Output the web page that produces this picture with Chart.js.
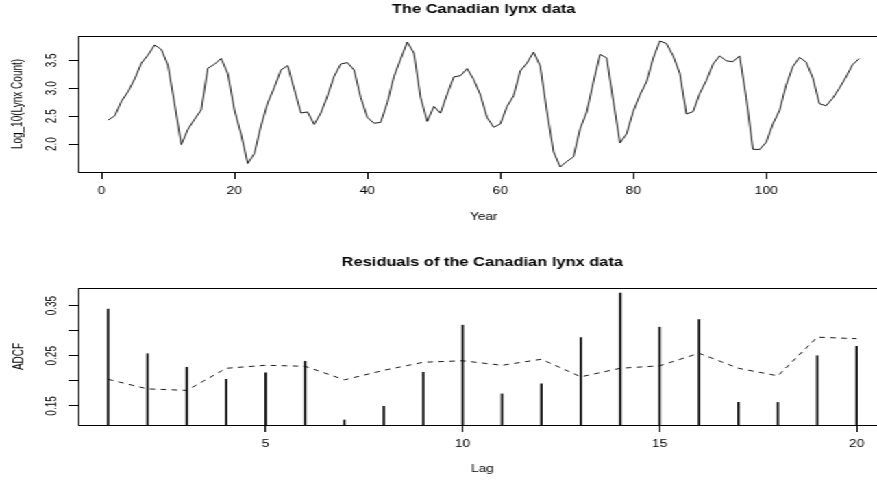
<!DOCTYPE html>
<html>
<head>
<meta charset="utf-8">
<title>Canadian lynx</title>
<script src="https://cdn.jsdelivr.net/npm/chart.js@4.4.1/dist/chart.umd.min.js"></script>
<style>
  body { margin: 0; background: #fff; overflow: hidden; }
  /* both plots live on a 660px board that is stretched sideways to the window */
  #board { width: 660px; transform: scaleX(1.3703); transform-origin: 0 0; }
  canvas { display: block; }
</style>
</head>
<body>
<div id="board">
  <canvas id="lynxChart" width="660" height="240"></canvas>
  <canvas id="adcfChart" width="660" height="241"></canvas>
</div>
<script>
Chart.defaults.font.family = '"Liberation Sans", Arial, Helvetica, sans-serif';
Chart.defaults.font.size = 10;
Chart.defaults.color = '#000';

// log10 of the yearly lynx trappings (1821-1934), plotted against index 1..114
const lynxLog = [
  2.430, 2.507, 2.767, 2.940, 3.169, 3.450, 3.594, 3.774, 3.695, 3.411,
  2.719, 1.991, 2.265, 2.446, 2.612, 3.359, 3.429, 3.533, 3.261, 2.612,
  2.179, 1.653, 1.833, 2.328, 2.737, 3.014, 3.328, 3.404, 2.981, 2.558,
  2.576, 2.352, 2.556, 2.864, 3.214, 3.435, 3.458, 3.326, 2.835, 2.476,
  2.373, 2.389, 2.742, 3.210, 3.520, 3.827, 3.629, 2.837, 2.407, 2.675,
  2.554, 2.894, 3.203, 3.224, 3.352, 3.154, 2.879, 2.476, 2.303, 2.360,
  2.671, 2.867, 3.310, 3.449, 3.647, 3.400, 2.590, 1.863, 1.591, 1.690,
  1.771, 2.274, 2.576, 3.111, 3.605, 3.543, 2.769, 2.021, 2.185, 2.588,
  2.880, 3.116, 3.540, 3.845, 3.800, 3.579, 3.264, 2.538, 2.582, 2.907,
  3.142, 3.433, 3.580, 3.490, 3.475, 3.579, 2.829, 1.908, 1.903, 2.033,
  2.360, 2.601, 3.054, 3.386, 3.553, 3.468, 3.187, 2.724, 2.686, 2.821,
  3.000, 3.201, 3.424, 3.531
];

// ADCF of the residuals and the dashed reference curve, lags 1..20
const lags = [1, 2, 3, 4, 5, 6, 7, 8, 9, 10, 11, 12, 13, 14, 15, 16, 17, 18, 19, 20];
const adcf = [0.343, 0.254, 0.227, 0.203, 0.216, 0.239, 0.122, 0.149, 0.217, 0.311,
              0.174, 0.194, 0.286, 0.375, 0.307, 0.322, 0.157, 0.157, 0.250, 0.269];
const adcfRef = [0.203, 0.184, 0.181, 0.225, 0.231, 0.229, 0.202, 0.221, 0.237, 0.240,
                 0.231, 0.243, 0.208, 0.225, 0.230, 0.255, 0.225, 0.210, 0.287, 0.284];

const yearTicks = [0, 20, 40, 60, 80, 100];
const lynxTicks = [2.0, 2.5, 3.0, 3.5];
const lagTicks = [5, 10, 15, 20];
const adcfTicks = [0.15, 0.20, 0.25, 0.30, 0.35];
const adcfLabelled = [0.15, 0.25, 0.35];

// box round the plotting region
const frame = {
  id: 'frame',
  afterDatasetsDraw(chart) {
    const a = chart.chartArea;
    const ctx = chart.ctx;
    ctx.save();
    ctx.strokeStyle = '#000';
    ctx.lineWidth = 1;
    ctx.strokeRect(Math.round(a.left) + 0.5, Math.round(a.top) + 0.5,
                   Math.round(a.right - a.left), Math.round(a.bottom - a.top));
    ctx.restore();
  }
};

function bottomAxis(min, max, ticks, title, titlePad, height) {
  return {
    type: 'linear',
    min: min,
    max: max,
    offset: false,
    afterBuildTicks: s => { s.ticks = ticks.map(v => ({ value: v })); },
    afterFit: s => { s.height = height; },
    grid: { drawOnChartArea: false, offset: false, tickLength: 7, tickColor: '#000' },
    border: { display: false },
    ticks: { padding: 6, maxRotation: 0, autoSkip: false, callback: v => String(v) },
    title: { display: true, text: title, padding: { top: 0, bottom: titlePad } }
  };
}

function leftAxis(min, max, ticks, label, tickPad, title, titlePad) {
  return {
    type: 'linear',
    min: min,
    max: max,
    afterBuildTicks: s => { s.ticks = ticks.map(v => ({ value: v })); },
    afterFit: s => { s.width = 57; },
    grid: { drawOnChartArea: false, tickLength: 7, tickColor: '#000' },
    border: { display: false },
    ticks: { padding: tickPad, minRotation: 90, maxRotation: 90, crossAlign: 'center',
             autoSkip: false, callback: label },
    title: { display: true, text: title, padding: { top: titlePad, bottom: 0 } }
  };
}

function plotTitle(text, top, bottom) {
  return {
    display: true,
    text: text,
    fullSize: false,
    font: { size: 12, weight: 'bold' },
    padding: { top: top, bottom: bottom }
  };
}

// Top: the log lynx series
new Chart(document.getElementById('lynxChart'), {
  type: 'line',
  data: {
    datasets: [{
      data: lynxLog.map((v, i) => ({ x: i + 1, y: v })),
      borderColor: '#000',
      borderWidth: 0.9,
      pointRadius: 0,
      tension: 0
    }]
  },
  options: {
    responsive: false,
    animation: false,
    layout: { padding: { top: 0, left: 0, right: 11, bottom: 0 } },
    plugins: {
      legend: { display: false },
      tooltip: { enabled: false },
      title: plotTitle('The Canadian lynx data', 2.3, 19.3)
    },
    scales: {
      x: bottomAxis(-3.52, 118.52, yearTicks, 'Year', 16.5, 68),
      y: leftAxis(1.501, 3.935, lynxTicks, v => v.toFixed(1), 5, 'Log_10(Lynx Count)', 7.5)
    }
  },
  plugins: [frame]
});

// Bottom: ADCF spikes with the dashed curve
new Chart(document.getElementById('adcfChart'), {
  type: 'bar',
  data: {
    datasets: [{
      type: 'line',
      data: lags.map((l, i) => ({ x: l, y: adcfRef[i] })),
      borderColor: '#000',
      borderWidth: 0.9,
      borderDash: [4, 4],
      pointRadius: 0,
      tension: 0
    }, {
      type: 'bar',
      data: lags.map((l, i) => ({ x: l, y: adcf[i] })),
      backgroundColor: '#000',
      barThickness: 1
    }]
  },
  options: {
    responsive: false,
    animation: false,
    layout: { padding: { top: 0, left: 0, right: 13, bottom: 0 } },
    plugins: {
      legend: { display: false },
      tooltip: { enabled: false },
      title: plotTitle('Residuals of the Canadian lynx data', 15.6, 18)
    },
    scales: {
      x: bottomAxis(0.24, 20.76, lagTicks, 'Lag', 6, 56),
      y: leftAxis(0.112, 0.385, adcfTicks,
                  v => adcfLabelled.includes(v) ? v.toFixed(2) : '', 2.3, 'ADCF', 8.2)
    }
  },
  plugins: [frame]
});
</script>
</body>
</html>
